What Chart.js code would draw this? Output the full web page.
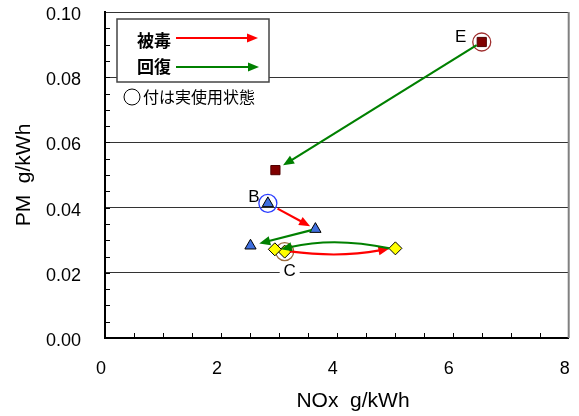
<!DOCTYPE html>
<html>
<head>
<meta charset="utf-8">
<script src="https://cdn.jsdelivr.net/npm/chart.js@4/dist/chart.umd.min.js"></script>
<style>
html, body { margin: 0; padding: 0; background: #fff; }
</style>
</head>
<body>
<canvas id="myChart" width="579" height="416"></canvas>
<script>
// values: [actual use, poisoned, recovered]
var eX = [6.50, 2.94];
var eY = [0.0908, 0.0515];
var bX = [2.81, 3.63, 2.51];
var bY = [0.0413, 0.0334, 0.0283];
var cX = [3.10, 5.01, 2.93];
var cY = [0.0265, 0.0275, 0.0272];

var xTicks = [0, 2, 4, 6, 8];
var yTicks = [0.00, 0.02, 0.04, 0.06, 0.08, 0.10];

// arrows: series, from index, to index, kind
var arrowSeries = ['B', 'B', 'C', 'C', 'E'];
var arrowFrom = [0, 1, 0, 1, 0];
var arrowTo = [1, 2, 1, 2, 1];
var arrowKind = ['damage', 'recover', 'damage', 'recover', 'recover'];

var FONT = '"Liberation Sans", Arial, "Noto Sans CJK JP", sans-serif';
var JP = '"Noto Sans CJK JP", sans-serif';

var series = { E: [eX, eY], B: [bX, bY], C: [cX, cY] };

function pts(xs, ys) {
    return xs.map(function (x, i) { return { x: x, y: ys[i] }; });
}

function drawArrow(ctx, x0, y0, x1, y1, bend, color, width, head) {
    var mx = (x0 + x1) / 2, my = (y0 + y1) / 2;
    var dx = x1 - x0, dy = y1 - y0, len = Math.hypot(dx, dy);
    var cx = mx - dy / len * bend, cy = my + dx / len * bend;
    var ex = x1 - cx, ey = y1 - cy, el = Math.hypot(ex, ey);
    var ux = ex / el, uy = ey / el;
    var bx = x1 - ux * head, by = y1 - uy * head;
    ctx.save();
    ctx.strokeStyle = color;
    ctx.lineWidth = width;
    ctx.beginPath();
    ctx.moveTo(x0, y0);
    ctx.quadraticCurveTo(cx, cy, bx + ux, by + uy);
    ctx.stroke();
    ctx.fillStyle = color;
    ctx.beginPath();
    ctx.moveTo(x1, y1);
    ctx.lineTo(bx - uy * head * 0.42, by + ux * head * 0.42);
    ctx.lineTo(bx + uy * head * 0.42, by - ux * head * 0.42);
    ctx.closePath();
    ctx.fill();
    ctx.restore();
}

var extras = {
    id: 'extras',
    afterDatasetsDraw: function (chart) {
        var ctx = chart.ctx;
        var xs = chart.scales.x, ys = chart.scales.y;
        var area = chart.chartArea;

        // inward minor ticks
        ctx.save();
        ctx.strokeStyle = '#000';
        ctx.lineWidth = 1;
        for (var i = 1; i < 20; i++) {
            var py = Math.round(ys.getPixelForValue(i * 0.005)) + 0.5;
            ctx.beginPath(); ctx.moveTo(area.left, py); ctx.lineTo(area.left + 5, py); ctx.stroke();
        }
        for (var j = 1; j < 16; j++) {
            var px = Math.round(xs.getPixelForValue(j * 0.5)) + 0.5;
            ctx.beginPath(); ctx.moveTo(px, area.bottom); ctx.lineTo(px, area.bottom - 5); ctx.stroke();
        }
        // right frame
        ctx.strokeStyle = '#808080';
        ctx.lineWidth = 2;
        ctx.beginPath(); ctx.moveTo(area.right, area.top); ctx.lineTo(area.right, area.bottom); ctx.stroke();
        ctx.restore();

        // x axis title (sits right of centre in the original)
        ctx.save();
        ctx.fillStyle = '#000';
        ctx.font = '21px ' + FONT;
        ctx.textAlign = 'center';
        ctx.textBaseline = 'middle';
        ctx.fillText('NOx  g/kWh', 353, 401);
        ctx.restore();

        // arrows between states
        var bends = [0, 0, 8, 12, 0];
        var gapStart = [11, 4, 5, 6, 6];
        var gapEnd = [6, 9, 6, 6, 9];
        arrowSeries.forEach(function (s, k) {
            var d = series[s];
            var ax = xs.getPixelForValue(d[0][arrowFrom[k]]), ay = ys.getPixelForValue(d[1][arrowFrom[k]]);
            var bx = xs.getPixelForValue(d[0][arrowTo[k]]), by = ys.getPixelForValue(d[1][arrowTo[k]]);
            var len = Math.hypot(bx - ax, by - ay);
            var ux = (bx - ax) / len, uy = (by - ay) / len;
            drawArrow(ctx, ax + ux * gapStart[k], ay + uy * gapStart[k],
                bx - ux * gapEnd[k], by - uy * gapEnd[k], bends[k],
                arrowKind[k] === 'damage' ? '#ff0000' : '#008000', 2.2, 11);
        });

        // point labels
        ctx.save();
        ctx.font = '17px ' + FONT;
        ctx.textAlign = 'center';
        ctx.textBaseline = 'middle';
        var lb = [['B', bX[0], bY[0], -14, -6], ['E', eX[0], eY[0], -21, -5], ['C', cX[0], cY[0], 5, 20]];
        lb.forEach(function (l) {
            var px = xs.getPixelForValue(l[1]) + l[3], py = ys.getPixelForValue(l[2]) + l[4];
            if (l[0] === 'C') {
                ctx.fillStyle = '#fff';
                ctx.fillRect(px - 10, py - 9, 20, 18);
            }
            ctx.fillStyle = '#000';
            ctx.fillText(l[0], px, py);
        });
        ctx.restore();

        // legend box
        ctx.save();
        ctx.fillStyle = '#fff';
        ctx.fillRect(117, 19, 152, 63);
        ctx.strokeStyle = '#444';
        ctx.lineWidth = 1.5;
        ctx.strokeRect(117, 19, 152, 63);
        ctx.fillStyle = '#000';
        ctx.font = 'bold 17px ' + JP;
        ctx.textAlign = 'left';
        ctx.textBaseline = 'middle';
        ctx.fillText('被毒', 137, 41);
        ctx.fillText('回復', 137, 67);
        ctx.restore();
        drawArrow(ctx, 176, 38, 258, 38, 0, '#ff0000', 2, 11);
        drawArrow(ctx, 176, 67, 259, 67, 0, '#008000', 2, 11);
        ctx.save();
        ctx.fillStyle = '#000';
        ctx.font = '16px ' + JP;
        ctx.textBaseline = 'middle';
        ctx.fillText('付は実使用状態', 143, 97);
        ctx.strokeStyle = '#000';
        ctx.lineWidth = 1;
        ctx.beginPath(); ctx.arc(132, 97, 8, 0, Math.PI * 2); ctx.stroke();
        ctx.restore();
    }
};

var ctx = document.getElementById('myChart');
var myChart = new Chart(ctx, {
    type: 'scatter',
    data: {
        datasets: [
            {
                label: 'E',
                data: pts(eX, eY),
                pointStyle: 'rect',
                pointRadius: 6.5,
                backgroundColor: '#800000',
                borderColor: '#500000',
                borderWidth: 1
            },
            {
                label: 'B',
                data: pts(bX, bY),
                pointStyle: 'triangle',
                pointRadius: 6.5,
                backgroundColor: '#3f6fdf',
                borderColor: '#000',
                borderWidth: 1
            },
            {
                label: 'C',
                data: pts(cX, cY),
                pointStyle: 'rectRot',
                pointRadius: 6.5,
                backgroundColor: '#ffff00',
                borderColor: '#000',
                borderWidth: 1
            },
            {
                label: 'actual',
                data: [{ x: eX[0], y: eY[0] }, { x: bX[0], y: bY[0] }, { x: cX[0], y: cY[0] }],
                pointStyle: 'circle',
                pointRadius: [9, 9, 9],
                backgroundColor: 'rgba(0,0,0,0)',
                borderColor: ['#a03030', '#2a3cff', '#9a6a3a'],
                borderWidth: 1.3
            }
        ]
    },
    options: {
        responsive: false,
        animation: false,
        layout: { padding: { left: 0, top: 12, right: 6, bottom: 0 } },
        plugins: { legend: { display: false }, tooltip: { enabled: false } },
        scales: {
            x: {
                type: 'linear',
                min: 0,
                max: 8,
                afterBuildTicks: function (s) { s.ticks = xTicks.map(function (v) { return { value: v }; }); },
                ticks: { padding: 0, labelOffset: -4, color: '#000', font: { size: 18, family: FONT } },
                grid: { display: false, drawTicks: true, tickLength: 20, tickColor: 'rgba(0,0,0,0)' },
                border: { color: '#000', width: 2 },
                title: { display: false },
                afterFit: function (s) { s.height = 78; s.paddingLeft = 0; s.paddingRight = 0; }
            },
            y: {
                min: 0,
                max: 0.1,
                afterBuildTicks: function (s) { s.ticks = yTicks.map(function (v) { return { value: v }; }); },
                ticks: { padding: 0, labelOffset: 3, color: '#000', font: { size: 18, family: FONT }, callback: function (v) { return v.toFixed(2); } },
                grid: { color: '#333', lineWidth: 1, drawTicks: true, tickLength: 24, tickColor: 'rgba(0,0,0,0)' },
                border: { color: '#000', width: 2 },
                title: { display: true, text: 'PM  g/kWh', color: '#000', font: { size: 21, family: FONT }, padding: { top: 12, bottom: 0 } },
                afterFit: function (s) { s.width = 105; }
            }
        }
    },
    plugins: [extras]
});
</script>
</body>
</html>
